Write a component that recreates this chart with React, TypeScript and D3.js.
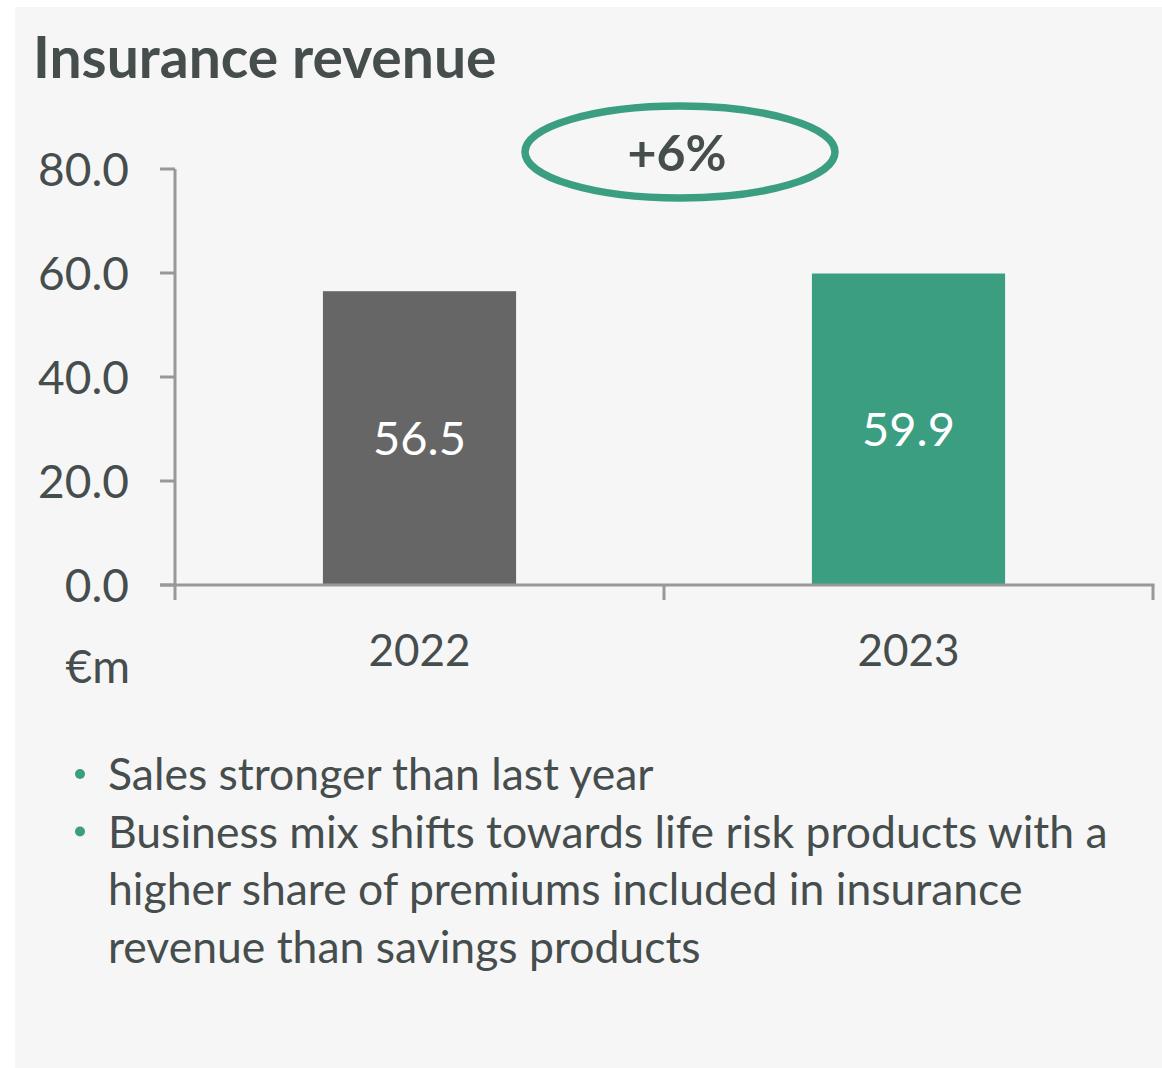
import React from "react";
import * as d3 from "d3";

const title = "Insurance revenue";
const categories = ["2022", "2023"];
const values = [56.5, 59.9];
const barColors = ["#666666", "#3b9e80"];
const yTicks = [0, 20, 40, 60, 80];
const unitLabel = "€m";
const growthLabel = "+6%";
const bullets = [
  ["Sales stronger than last year"],
  [
    "Business mix shifts towards life risk products with a",
    "higher share of premiums included in insurance",
    "revenue than savings products",
  ],
];

const W = 1162;
const H = 1068;
const FONT = "Lato, 'Open Sans', sans-serif";
const TEXT = "#464d4d";
const AXIS = "#989898";
const GREEN = "#3b9e80";

export default function App() {
  const x0 = 175;
  const x1 = 1153;
  const y0 = 585;
  const yTop = 169;
  const x = d3.scaleBand<string>().domain(categories).range([x0, x1]).padding(0);
  const y = d3.scaleLinear().domain([0, 80]).range([y0, yTop]);
  const bw = x.bandwidth() * 0.395;
  const boundaries = [x0, ...categories.map((c) => (x(c) as number) + x.bandwidth())];

  let lineY = 790;
  const lineGap = 57.5;

  return (
    <svg
      width={W}
      height={H}
      style={{ position: "absolute", left: 0, top: 0, background: "#ffffff" }}
      fontFamily={FONT}
    >
      <rect x={15} y={7} width={W - 15} height={H - 7} fill="#f6f6f6" />
      <text x={33} y={78} fontSize={57} fontWeight={700} fill={TEXT}>
        {title}
      </text>

      {/* growth ellipse */}
      <ellipse cx={680} cy={152} rx={155} ry={46} fill="none" stroke={GREEN} strokeWidth={7.5} />
      <text x={677} y={171} fontSize={50} fontWeight={700} fill={TEXT} textAnchor="middle">
        {growthLabel}
      </text>

      {/* bars */}
      {values.map((v, i) => {
        const cx = (x(categories[i]) as number) + x.bandwidth() / 2;
        return (
          <g key={categories[i]}>
            <rect x={cx - bw / 2} y={y(v)} width={bw} height={y(0) - y(v)} fill={barColors[i]} />
            <text
              x={cx}
              y={(y(v) + y(0)) / 2}
              dy="0.35em"
              fontSize={47}
              fill="#ffffff"
              textAnchor="middle"
            >
              {v.toFixed(1)}
            </text>
            <text x={cx} y={666} fontSize={44} fill={TEXT} textAnchor="middle">
              {categories[i]}
            </text>
          </g>
        );
      })}

      {/* y axis */}
      <line x1={x0} x2={x0} y1={yTop} y2={y0 + 15} stroke={AXIS} strokeWidth={3} />
      {yTicks.map((t) => (
        <g key={t}>
          <line x1={x0 - 15} x2={x0} y1={y(t)} y2={y(t)} stroke={AXIS} strokeWidth={3} />
          <text x={129} y={y(t)} dy="0.36em" fontSize={46} fill={TEXT} textAnchor="end">
            {t.toFixed(1)}
          </text>
        </g>
      ))}
      {/* x axis */}
      <line x1={x0 - 15} x2={x1 + 1.5} y1={y0} y2={y0} stroke={AXIS} strokeWidth={3} />
      {boundaries.slice(1).map((b, i) => (
        <line key={i} x1={b} x2={b} y1={y0} y2={y0 + 15} stroke={AXIS} strokeWidth={3} />
      ))}
      <text x={130} y={683} fontSize={46} fill={TEXT} textAnchor="end">
        {unitLabel}
      </text>

      {/* bullets */}
      {bullets.map((lines, bi) => {
        const startY = lineY;
        const el = (
          <g key={bi}>
            <circle cx={80} cy={startY - 16} r={5} fill={GREEN} />
            {lines.map((l, li) => (
              <text key={li} x={108} y={startY + li * lineGap} fontSize={44.5} fill={TEXT}>
                {l}
              </text>
            ))}
          </g>
        );
        lineY += lines.length * lineGap;
        return el;
      })}
    </svg>
  );
}
